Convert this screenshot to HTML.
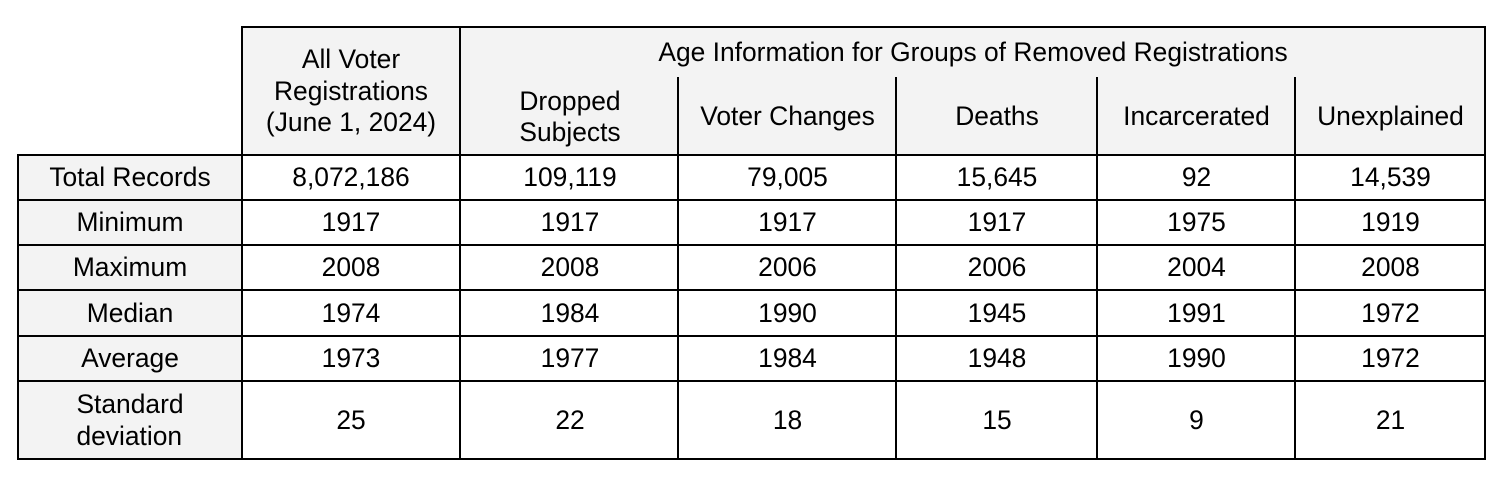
<!DOCTYPE html>
<html><head><meta charset="utf-8"><style>
html,body{margin:0;padding:0;background:#fff;}
body{width:1500px;height:482px;position:relative;overflow:hidden;font-family:"Liberation Sans",Arial,sans-serif;color:#000;font-size:26.4px;}
.bg{position:absolute;background:#f3f3f3;}
.h{position:absolute;height:2px;background:#000;}
.v{position:absolute;width:2px;background:#000;}
.t{position:absolute;display:flex;align-items:center;justify-content:center;text-align:center;line-height:31.5px;white-space:nowrap;}
</style></head><body>
<div class="bg" style="left:242px;top:27px;width:1243px;height:128px"></div>
<div class="bg" style="left:18px;top:155px;width:224px;height:304px"></div>
<div class="h" style="left:241px;top:26px;width:1245px"></div>
<div class="h" style="left:17px;top:154px;width:1469px"></div>
<div class="h" style="left:17px;top:199px;width:1469px"></div>
<div class="h" style="left:17px;top:244px;width:1469px"></div>
<div class="h" style="left:17px;top:289px;width:1469px"></div>
<div class="h" style="left:17px;top:335px;width:1469px"></div>
<div class="h" style="left:17px;top:380px;width:1469px"></div>
<div class="h" style="left:17px;top:458px;width:1469px"></div>
<div class="v" style="left:17px;top:154px;height:306px"></div>
<div class="v" style="left:241px;top:26px;height:434px"></div>
<div class="v" style="left:459px;top:26px;height:434px"></div>
<div class="v" style="left:677px;top:77px;height:383px"></div>
<div class="v" style="left:895px;top:77px;height:383px"></div>
<div class="v" style="left:1096px;top:77px;height:383px"></div>
<div class="v" style="left:1294px;top:77px;height:383px"></div>
<div class="v" style="left:1484px;top:26px;height:434px"></div>
<div class="t" style="left:242px;top:28px;width:218px;height:127px">All Voter<br>Registrations<br>(June 1, 2024)</div>
<div class="t" style="left:461px;top:28px;width:1024px;height:50px">Age Information for Groups of Removed Registrations</div>
<div class="t" style="left:461px;top:79px;width:218px;height:76px;text-align:left">Dropped<br>Subjects</div>
<div class="t" style="left:679px;top:79px;width:217px;height:76px">Voter Changes</div>
<div class="t" style="left:897px;top:79px;width:200px;height:76px">Deaths</div>
<div class="t" style="left:1098px;top:79px;width:197px;height:76px">Incarcerated</div>
<div class="t" style="left:1296px;top:79px;width:189px;height:76px">Unexplained</div>

<div class="t" style="left:18px;top:156px;width:224px;height:44px">Total Records</div>
<div class="t" style="left:242px;top:156px;width:218px;height:44px">8,072,186</div>
<div class="t" style="left:461px;top:156px;width:218px;height:44px">109,119</div>
<div class="t" style="left:679px;top:156px;width:217px;height:44px">79,005</div>
<div class="t" style="left:897px;top:156px;width:200px;height:44px">15,645</div>
<div class="t" style="left:1098px;top:156px;width:197px;height:44px">92</div>
<div class="t" style="left:1296px;top:156px;width:189px;height:44px">14,539</div>

<div class="t" style="left:18px;top:201px;width:224px;height:44px">Minimum</div>
<div class="t" style="left:242px;top:201px;width:218px;height:44px">1917</div>
<div class="t" style="left:461px;top:201px;width:218px;height:44px">1917</div>
<div class="t" style="left:679px;top:201px;width:217px;height:44px">1917</div>
<div class="t" style="left:897px;top:201px;width:200px;height:44px">1917</div>
<div class="t" style="left:1098px;top:201px;width:197px;height:44px">1975</div>
<div class="t" style="left:1296px;top:201px;width:189px;height:44px">1919</div>

<div class="t" style="left:18px;top:246px;width:224px;height:44px">Maximum</div>
<div class="t" style="left:242px;top:246px;width:218px;height:44px">2008</div>
<div class="t" style="left:461px;top:246px;width:218px;height:44px">2008</div>
<div class="t" style="left:679px;top:246px;width:217px;height:44px">2006</div>
<div class="t" style="left:897px;top:246px;width:200px;height:44px">2006</div>
<div class="t" style="left:1098px;top:246px;width:197px;height:44px">2004</div>
<div class="t" style="left:1296px;top:246px;width:189px;height:44px">2008</div>

<div class="t" style="left:18px;top:291px;width:224px;height:45px">Median</div>
<div class="t" style="left:242px;top:291px;width:218px;height:45px">1974</div>
<div class="t" style="left:461px;top:291px;width:218px;height:45px">1984</div>
<div class="t" style="left:679px;top:291px;width:217px;height:45px">1990</div>
<div class="t" style="left:897px;top:291px;width:200px;height:45px">1945</div>
<div class="t" style="left:1098px;top:291px;width:197px;height:45px">1991</div>
<div class="t" style="left:1296px;top:291px;width:189px;height:45px">1972</div>

<div class="t" style="left:18px;top:337px;width:224px;height:44px">Average</div>
<div class="t" style="left:242px;top:337px;width:218px;height:44px">1973</div>
<div class="t" style="left:461px;top:337px;width:218px;height:44px">1977</div>
<div class="t" style="left:679px;top:337px;width:217px;height:44px">1984</div>
<div class="t" style="left:897px;top:337px;width:200px;height:44px">1948</div>
<div class="t" style="left:1098px;top:337px;width:197px;height:44px">1990</div>
<div class="t" style="left:1296px;top:337px;width:189px;height:44px">1972</div>

<div class="t" style="left:18px;top:382px;width:224px;height:77px;text-align:left">Standard<br>deviation</div>
<div class="t" style="left:242px;top:382px;width:218px;height:77px">25</div>
<div class="t" style="left:461px;top:382px;width:218px;height:77px">22</div>
<div class="t" style="left:679px;top:382px;width:217px;height:77px">18</div>
<div class="t" style="left:897px;top:382px;width:200px;height:77px">15</div>
<div class="t" style="left:1098px;top:382px;width:197px;height:77px">9</div>
<div class="t" style="left:1296px;top:382px;width:189px;height:77px">21</div>
</body></html>
